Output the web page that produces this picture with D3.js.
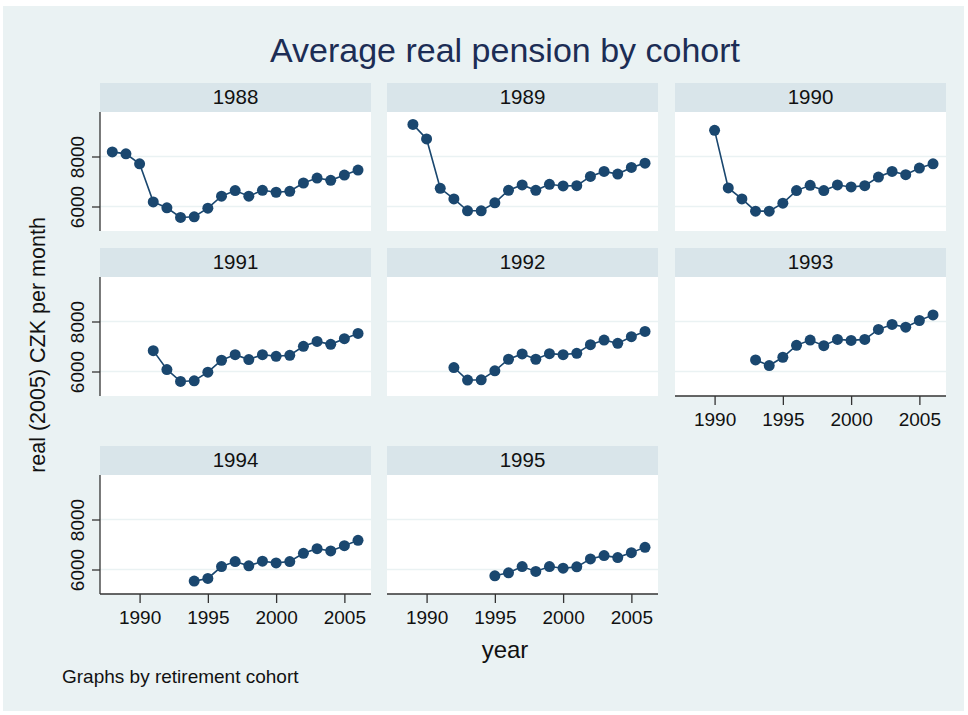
<html>
<head>
  <meta charset="utf-8">
  <title>pension by cohort</title>
  <script src="https://d3js.org/d3.v7.min.js"></script>
  <style>
    body { margin: 0; background: #fff; }
    text { font-family: Arial, "Liberation Sans", sans-serif; }
  </style>
</head>
<body>
<script>
// data
var years = [1988, 1989, 1990, 1991, 1992, 1993, 1994, 1995, 1996, 1997,
             1998, 1999, 2000, 2001, 2002, 2003, 2004, 2005, 2006];
var cohorts = [1988, 1989, 1990, 1991, 1992, 1993, 1994, 1995];

// each series starts in the cohort's own year
var pension1988 = [8185, 8106, 7709, 6185, 5947, 5563, 5589, 5934, 6411, 6636, 6411, 6649, 6570, 6609, 6940, 7139, 7046, 7258, 7457];
var pension1989 = [9285, 8702, 6728, 6305, 5828, 5828, 6146, 6649, 6861, 6649, 6887, 6821, 6834, 7205, 7404, 7298, 7563, 7735];
var pension1990 = [9046, 6742, 6305, 5815, 5815, 6132, 6636, 6848, 6636, 6861, 6781, 6834, 7179, 7404, 7272, 7536, 7709];
var pension1991 = [6834, 6079, 5603, 5629, 5974, 6450, 6675, 6477, 6675, 6609, 6649, 7007, 7205, 7086, 7311, 7523];
var pension1992 = [6159, 5656, 5669, 6026, 6490, 6702, 6490, 6715, 6675, 6728, 7073, 7258, 7126, 7391, 7603];
var pension1993 = [6464, 6238, 6570, 7046, 7258, 7033, 7285, 7245, 7285, 7682, 7881, 7775, 8040, 8265];
var pension1994 = [5536, 5642, 6119, 6318, 6146, 6331, 6265, 6318, 6649, 6834, 6742, 6954, 7166];
var pension1995 = [5748, 5868, 6119, 5921, 6119, 6053, 6106, 6424, 6556, 6477, 6675, 6887];

var series = [pension1988, pension1989, pension1990, pension1991,
              pension1992, pension1993, pension1994, pension1995];

var xTicks = [1990, 1995, 2000, 2005];
var yTicks = [6000, 8000];

var width = 968, height = 715;

var colLeft = [100, 387, 675];
var rowTop = [83, 248, 446];
var panelW = 271, headH = 29, plotH = 119;

var navy = "#1a476f";

var svg = d3.select("body")
  .append("svg")
  .attr("width", width).attr("height", height);

// graph region
svg.append("rect")
  .attr("x", 3).attr("y", 6)
  .attr("width", 961).attr("height", 705)
  .attr("fill", "#eaf2f3");

var x = d3.scaleLinear().domain([1987.1, 2006.95]).range([0, panelW]);
var y = d3.scaleLinear().domain([5020, 9780]).range([plotH, 0]);

var line = d3.line()
  .x(function(d){ return x(d.year); })
  .y(function(d){ return y(d.value); });

cohorts.forEach(function(c, i){
  var row = Math.floor(i / 3), col = i % 3;
  var g = svg.append("g")
    .attr("transform", "translate(" + colLeft[col] + "," + rowTop[row] + ")");

  // header strip
  g.append("rect")
    .attr("width", panelW).attr("height", headH)
    .attr("fill", "#d9e5ea");
  g.append("text")
    .attr("x", panelW / 2).attr("y", 21)
    .attr("text-anchor", "middle")
    .attr("font-size", 20.5)
    .attr("fill", "#111")
    .text(c);

  var p = g.append("g").attr("transform", "translate(0," + headH + ")");

  p.append("rect")
    .attr("width", panelW).attr("height", plotH)
    .attr("fill", "#fff");

  // grid
  p.selectAll(".grid")
    .data(yTicks)
    .enter().append("line")
    .attr("x1", 0).attr("x2", panelW)
    .attr("y1", function(d){ return y(d); })
    .attr("y2", function(d){ return y(d); })
    .attr("stroke", "#eaf2f3")
    .attr("stroke-width", 1.6);

  var start = years.indexOf(c);
  var pts = series[i].map(function(v, k){
    return {year: years[start + k], value: v};
  });

  p.append("path")
    .datum(pts)
    .attr("d", line)
    .attr("fill", "none")
    .attr("stroke", navy)
    .attr("stroke-width", 1.6);

  p.selectAll(".dot")
    .data(pts)
    .enter().append("circle")
    .attr("cx", function(d){ return x(d.year); })
    .attr("cy", function(d){ return y(d.value); })
    .attr("r", 5.5)
    .attr("fill", navy);

  // y axis on the left column
  if (col === 0) {
    var ya = p.append("g")
      .call(d3.axisLeft(y).tickValues(yTicks).tickSize(8).tickFormat(d3.format("d")));
    ya.select(".domain").attr("stroke", "#333").attr("stroke-width", 1.3)
      .attr("d", "M0,0V" + plotH);
    ya.selectAll(".tick line").attr("stroke", "#333").attr("stroke-width", 1.3);
    ya.selectAll(".tick text")
      .attr("font-size", 19)
      .attr("fill", "#111")
      .attr("font-family", "Arial, 'Liberation Sans', sans-serif")
      .attr("text-anchor", "middle")
      .attr("transform", "rotate(-90)")
      .attr("x", 0).attr("y", -16)
      .attr("dy", "0");
  }

  // x axis on the bottom panel of each column
  if (c === 1993 || row === 2) {
    var xa = p.append("g")
      .attr("transform", "translate(0," + plotH + ")")
      .call(d3.axisBottom(x).tickValues(xTicks).tickSize(9).tickFormat(d3.format("d")));
    xa.select(".domain").attr("stroke", "#333").attr("stroke-width", 1.3)
      .attr("d", "M0,0H" + panelW);
    xa.selectAll(".tick line").attr("stroke", "#333").attr("stroke-width", 1.3);
    xa.selectAll(".tick text")
      .attr("font-size", 19)
      .attr("fill", "#111")
      .attr("font-family", "Arial, 'Liberation Sans', sans-serif")
      .attr("y", 30).attr("dy", "0");
  }
});

// titles
svg.append("text")
  .attr("x", 505).attr("y", 62)
  .attr("text-anchor", "middle")
  .attr("font-size", 34)
  .attr("fill", "#1c2d55")
  .text("Average real pension by cohort");

svg.append("text")
  .attr("x", 505).attr("y", 658)
  .attr("text-anchor", "middle")
  .attr("font-size", 24)
  .attr("fill", "#111")
  .text("year");

svg.append("text")
  .attr("transform", "translate(45,345) rotate(-90)")
  .attr("text-anchor", "middle")
  .attr("font-size", 21.5)
  .attr("fill", "#111")
  .text("real (2005) CZK per month");

svg.append("text")
  .attr("x", 62).attr("y", 683)
  .attr("font-size", 19)
  .attr("fill", "#111")
  .text("Graphs by retirement cohort");
</script>
</body>
</html>
